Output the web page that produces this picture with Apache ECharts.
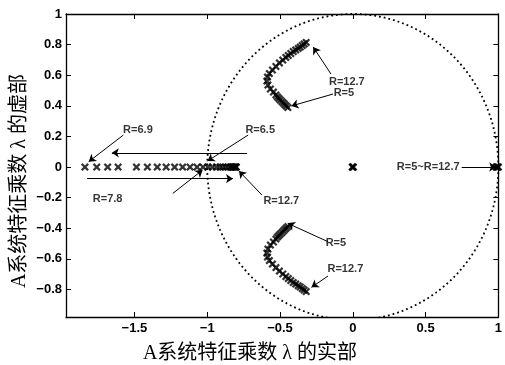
<!DOCTYPE html>
<html><head><meta charset="utf-8">
<script src="https://cdn.jsdelivr.net/npm/echarts@6/dist/echarts.min.js"></script>
<style>html,body{margin:0;padding:0;background:#fff}#c{width:505px;height:365px}</style>
</head><body><div id="c"></div><script>
// ---- data ----
const xTicks = [-1.5, -1, -0.5, 0, 0.5, 1];
const yTicks = [-0.8, -0.6, -0.4, -0.2, 0, 0.2, 0.4, 0.6, 0.8, 1];
// real eigenvalue positions (imag = 0)
const realX = [-1.840, -1.759, -1.684, -1.612, -1.486, -1.411, -1.343, -1.282, -1.224, -1.169,
  -1.118, -1.070, -1.029, -0.995, -0.965, -0.937, -0.913, -0.893, -0.873, -0.855, -0.838,
  -0.830, -0.825, -0.818, -0.811, -0.806, -0.804, -0.800];
// complex pair (upper half; lower half is its conjugate)
const cplxRe = [-0.446, -0.457, -0.467, -0.477, -0.487, -0.498, -0.508, -0.518, -0.528, -0.545,
  -0.566, -0.583, -0.590, -0.586, -0.573, -0.552, -0.528, -0.504, -0.481, -0.460, -0.443,
  -0.426, -0.409, -0.392, -0.375, -0.361, -0.347, -0.334, -0.320];
const cplxIm = [0.389, 0.399, 0.408, 0.418, 0.428, 0.438, 0.448, 0.458, 0.471, 0.490,
  0.510, 0.536, 0.562, 0.588, 0.611, 0.634, 0.657, 0.680, 0.699, 0.716, 0.729,
  0.742, 0.755, 0.765, 0.775, 0.784, 0.794, 0.804, 0.814];
const originRe = [0, 0.004, -0.004];
const unitRe = [0.985, 0.99, 0.995, 1.0];
// annotations
const annoText = ['R=12.7', 'R=5', 'R=6.9', 'R=6.5', 'R=7.8', 'R=12.7', 'R=5~R=12.7', 'R=5', 'R=12.7'];
const annoX = [-0.041, -0.061, -1.476, -0.636, -1.684, -0.491, 0.518, -0.116, -0.051];
const annoY = [0.556, 0.486, 0.242, 0.242, -0.209, -0.222, 0.0, -0.495, -0.669];
const arrowFromX = [-0.150, -0.136, -1.576, -0.726, -1.825, -0.719, -1.236, -0.624, 0.748, -0.170, -0.170];
const arrowFromY = [0.608, 0.477, 0.209, 0.093, -0.076, 0.209, -0.172, -0.183, 0.0, -0.488, -0.712];
const arrowToX = [-0.272, -0.422, -1.814, -1.655, -0.823, -0.998, -1.032, -0.782, 0.985, -0.447, -0.284];
const arrowToY = [0.784, 0.399, 0.035, 0.093, -0.076, 0.039, -0.020, -0.026, 0.0, -0.368, -0.786];

// ---- build ----
const crossPath = 'path://M0,2L2,0L5,3L8,0L10,2L7,5L10,8L8,10L5,7L2,10L0,8L3,5Z';
const eig = [];
realX.forEach(x => eig.push([x, 0]));
cplxRe.forEach((x, i) => { eig.push([x, cplxIm[i]]); eig.push([x, -cplxIm[i]]); });
originRe.forEach(x => eig.push([x, 0]));
unitRe.forEach(x => eig.push([x, 0]));

const circle = [];
for (let a = 0; a <= 360; a += 1) {
  const t = a * Math.PI / 180;
  circle.push([Math.cos(t), Math.sin(t)]);
}
const fmt = v => String(v).replace('-', '\u2212');
const labelFont = { fontFamily: 'Liberation Sans, Arial, sans-serif', fontWeight: 'bold', fontSize: 13, color: '#000' };
const axisCommon = {
  type: 'value', splitLine: { show: false },
  axisLine: { show: true, onZero: false, lineStyle: { color: '#000', width: 1.3 } },
};
const chart = echarts.init(document.getElementById('c'));
chart.setOption({
  animation: false,
  backgroundColor: '#fff',
  grid: { left: 66, right: 3, top: 14, bottom: 48, containLabel: false },
  xAxis: [
    Object.assign({}, axisCommon, { position: 'bottom', min: -1.97, max: 1,
      axisTick: { inside: true, length: 5, customValues: xTicks, lineStyle: { color: '#000' } },
      axisLabel: Object.assign({ customValues: xTicks, formatter: fmt, margin: 5 }, labelFont) }),
    Object.assign({}, axisCommon, { position: 'top', min: -1.97, max: 1,
      axisTick: { inside: true, length: 5, customValues: xTicks, lineStyle: { color: '#000' } },
      axisLabel: { show: false } })
  ],
  yAxis: [
    Object.assign({}, axisCommon, { position: 'left', min: -0.98, max: 1,
      axisTick: { inside: true, length: 5, customValues: yTicks, lineStyle: { color: '#000' } },
      axisLabel: Object.assign({ customValues: yTicks, formatter: fmt, margin: 4 }, labelFont) }),
    Object.assign({}, axisCommon, { position: 'right', min: -0.98, max: 1,
      axisTick: { inside: true, length: 5, customValues: yTicks, lineStyle: { color: '#000' } },
      axisLabel: { show: false } })
  ],
  series: [
    { type: 'line', data: circle, showSymbol: false, clip: true, silent: true,
      lineStyle: { color: '#000', width: 1.8, type: [1.8, 3] } },
    { type: 'scatter', data: eig, symbol: crossPath, symbolSize: 8, clip: false,
      itemStyle: { color: '#000' } },
    { type: 'scatter', data: annoX.map((x, i) => [x, annoY[i]]), symbolSize: 0, clip: false,
      label: { show: true, position: 'inside', formatter: p => annoText[p.dataIndex],
        fontFamily: 'Liberation Sans, Arial, sans-serif', fontWeight: 'bold', fontSize: 11, color: '#000' },
      markLine: { silent: true, symbol: ['none', 'arrow'], symbolSize: 7, precision: 3,
        lineStyle: { color: '#000', width: 1, type: 'solid' }, label: { show: false },
        data: arrowFromX.map((x, i) => [{ coord: [x, arrowFromY[i]] }, { coord: [arrowToX[i], arrowToY[i]] }]) } }
  ],
  graphic: [
    { type: 'text', x: 250, y: 354, style: { text: 'A系统特征乘数 λ 的实部', align: 'center', verticalAlign: 'middle',
      font: '20px "Liberation Serif", "Noto Sans CJK SC", serif', fill: '#000' } },
    { type: 'text', x: 20, y: 181, rotation: Math.PI / 2, style: { text: 'A系统特征乘数 λ 的虚部', align: 'center', verticalAlign: 'middle',
      font: '20px "Liberation Serif", "Noto Sans CJK SC", serif', fill: '#000' } }
  ]
});
</script></body></html>
